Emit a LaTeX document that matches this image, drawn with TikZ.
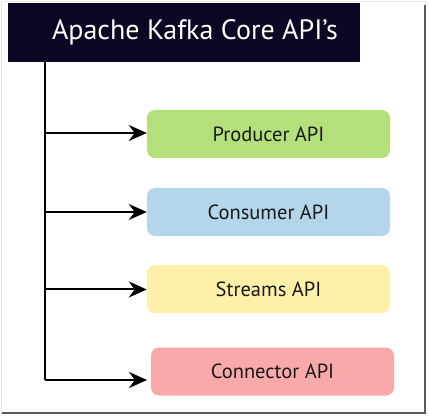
\documentclass[tikz,border=0pt]{standalone}
\usepackage{fontspec}
\setmainfont{PT Sans}
\usetikzlibrary{arrows.meta,positioning,calc}
\definecolor{Tc}{HTML}{0B0725}
\definecolor{Pc}{HTML}{B3E07A}
\definecolor{Cc}{HTML}{B4D6EA}
\definecolor{Sc}{HTML}{FEF0A8}
\definecolor{Nc}{HTML}{F9A9A9}
\definecolor{frame}{HTML}{5A5A5A}
\tikzset{
  title/.style={rectangle, fill=Tc, text=white, inner sep=0pt, minimum width=352pt, minimum height=59pt, font=\fontsize{28}{30}\selectfont},
  api/.style={rectangle, rounded corners=8pt, inner sep=0pt, minimum width=243pt, minimum height=48pt, text=black!90, font=\fontsize{20.5}{22}\selectfont},
  link/.style={-{Stealth[length=18pt, width=16pt]}, line width=2pt},
  trunk/.style={line width=2pt},
}
\begin{document}
\begin{tikzpicture}[x=1pt, y=-1pt]
  \useasboundingbox (0,0) rectangle (429,417);
  % frame with shadow
  \draw[black!10, line width=0.8pt] (1,1) rectangle (425,413);
  \draw[frame, line width=2pt] (425,5) -- (425,413) -- (2,413);
  % title
  \node[title] (core) at (184,32.5) {\hspace*{22pt}Apache Kafka Core API's};
  % api boxes
  \node[api, fill=Pc] (prod) at (268.5,134) {Producer API};
  \node[api, fill=Cc] (cons) at (268.5,212) {Consumer API};
  \node[api, fill=Sc] (strm) at (268.5,289) {Streams API};
  \node[api, fill=Nc] (conn) at (272.5,371.5) {Connector API};
  % connectors
  \coordinate (top) at (45,62);
  \coordinate (j1) at (45,133);
  \coordinate (j2) at (45,212);
  \coordinate (j3) at (45,289.5);
  \coordinate (j4) at (45,380);
  \coordinate (e4) at (147,380);
  \draw[trunk] (top) -- (j4);
  \draw[link] (j1) -- (j1 -| prod.west);
  \draw[link] (j2) -- (j2 -| cons.west);
  \draw[link] (j3) -- (j3 -| strm.west);
  \draw[link] (j4) -- (e4);
\end{tikzpicture}
\end{document}
